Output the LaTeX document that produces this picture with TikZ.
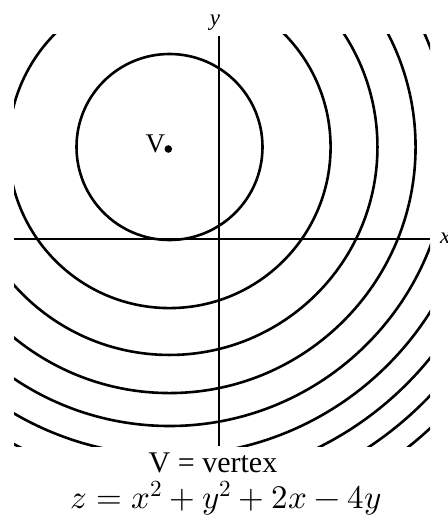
\documentclass[tikz,border=0pt]{standalone}
\usepackage{fontspec}
\usepackage{unicode-math}
\setmainfont{Liberation Serif}
\setmathfont{Latin Modern Math}
\begin{document}
\begin{tikzpicture}[x=1pt,y=-1pt,
  contour/.style={line width=2.6pt,black},
  axis/.style={line width=1.6pt,black},
  lbl/.style={inner sep=0pt,outer sep=0pt}]
\useasboundingbox (0,0) rectangle (447,516);
\coordinate (C) at (169.5,147);
\begin{scope}
  \clip (14,35) rectangle (430,446);
  \foreach \k in {0,...,8}{
    \draw[contour] (C) circle ({46.5*sqrt(4+8*\k)});
  }
\end{scope}
\coordinate (xl) at (14,239);
\coordinate (xr) at (430,239);
\coordinate (yt) at (219,36);
\coordinate (yb) at (219,446);
\draw[axis] (xl) -- (xr);
\draw[axis] (yt) -- (yb);
\node[lbl,anchor=base] (ylab) at (215,26) {\fontsize{23}{26}\selectfont\itshape y};
\node[lbl,anchor=base west] (xlab) at (440,243) {\fontsize{23}{26}\selectfont\itshape x};
\fill (168.3,149) circle (3.8pt);
\node[lbl,anchor=base east] (vlab) at (165,152) {\fontsize{27}{30}\selectfont V};
\node[lbl,anchor=base] (vdef) at (213,472) {\fontsize{30}{34}\selectfont V = vertex};
\node[lbl,anchor=base] (eq) at (226,508) {\fontsize{33}{38}\selectfont $z=x^2+y^2+2x-4y$};
\end{tikzpicture}
\end{document}
